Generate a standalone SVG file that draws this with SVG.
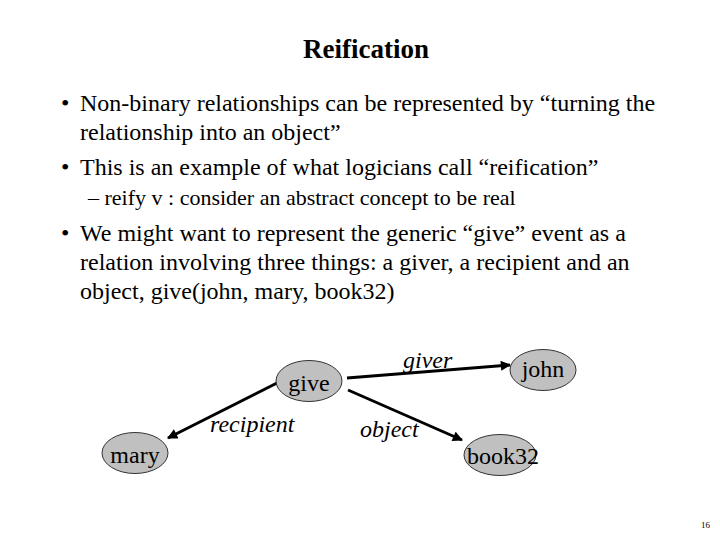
<svg xmlns="http://www.w3.org/2000/svg" width="720" height="540" viewBox="0 0 720 540">
<style>
  .t { font-family: "Liberation Serif", "Times New Roman", serif; fill: #000; }
  .body { font-size: 24px; }
  .sub { font-size: 22px; }
  .title { font-size: 27px; font-weight: bold; }
  .node ellipse { fill: #c0c0c0; stroke: #333; stroke-width: 1; }
  .node text { font-size: 24px; text-anchor: middle; }
  .edge { stroke: #000; stroke-width: 3; fill: none; marker-end: url(#ah); }
  .lbl { font-size: 24px; font-style: italic; }
</style>
<defs>
  <marker id="ah" viewBox="0 0 10 10" refX="9" refY="5" markerWidth="4" markerHeight="3.4" markerUnits="strokeWidth" orient="auto">
    <path d="M0,0 L10,5 L0,10 z" fill="#000"/>
  </marker>
</defs>
<rect width="720" height="540" fill="#fff"/>
<text class="t title" x="366" y="58" text-anchor="middle">Reification</text>
<g id="bullets">
  <text class="t body" x="61" y="111">•</text>
  <text class="t body" x="80" y="111">Non-binary relationships can be represented by “turning the</text>
  <text class="t body" x="80" y="140">relationship into an object”</text>
  <text class="t body" x="61" y="175">•</text>
  <text class="t body" x="80" y="175">This is an example of what logicians call “reification”</text>
  <text class="t sub" x="88" y="205">– reify v : consider an abstract concept to be real</text>
  <text class="t body" x="61" y="241">•</text>
  <text class="t body" x="80" y="241">We might want to represent the generic “give” event as a</text>
  <text class="t body" x="80" y="270">relation involving three things: a giver, a recipient and an</text>
  <text class="t body" x="80" y="299">object, give(john, mary, book32)</text>
</g>
<g id="connectors">
  <line class="edge" x1="347" y1="378" x2="510" y2="365"/>
  <line class="edge" x1="277" y1="383" x2="168" y2="438"/>
  <line class="edge" x1="348" y1="390" x2="462" y2="440"/>
  <text class="t lbl" x="403" y="368">giver</text>
  <text class="t lbl" x="210" y="432">recipient</text>
  <text class="t lbl" x="360" y="437">object</text>
</g>
<g id="give" class="node">
  <ellipse cx="309" cy="381" rx="33" ry="20.5"/>
  <text class="t" x="309" y="391">give</text>
</g>
<g id="john" class="node">
  <ellipse cx="543" cy="370" rx="33" ry="20.5"/>
  <text class="t" x="543" y="377">john</text>
</g>
<g id="mary" class="node">
  <ellipse cx="135" cy="453" rx="33" ry="20.5"/>
  <text class="t" x="135" y="463">mary</text>
</g>
<g id="book32" class="node">
  <ellipse cx="500" cy="455" rx="36" ry="20.5"/>
  <text class="t" x="503" y="464">book32</text>
</g>
<text class="t" x="705.5" y="528" font-size="9" text-anchor="middle">16</text>
</svg>
